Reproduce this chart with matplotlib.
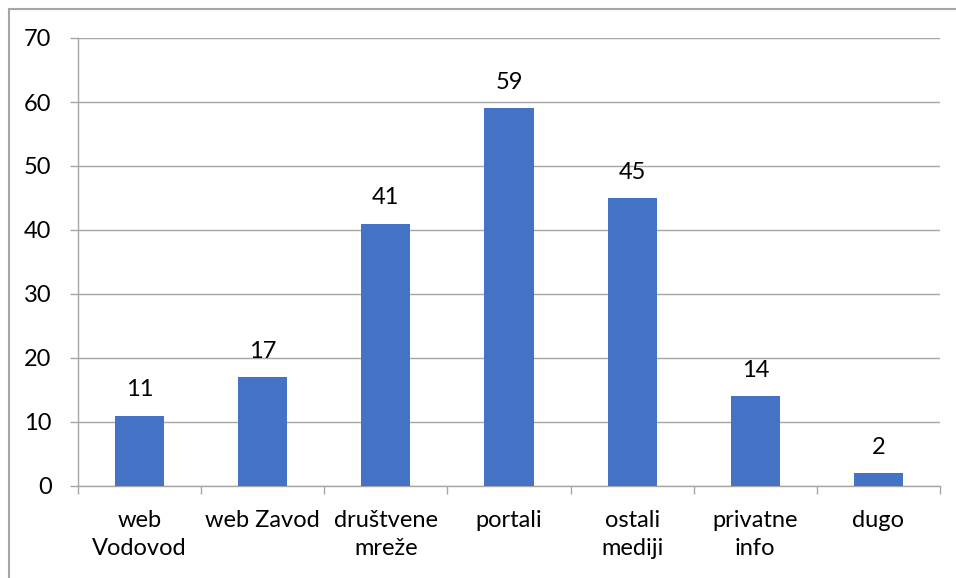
import numpy as np
import matplotlib.pyplot as plt
from matplotlib.lines import Line2D

# data
categories = ["web\nVodovod", "web Zavod", "društvene\nmreže", "portali",
              "ostali\nmediji", "privatne\ninfo", "dugo"]
values = [11, 17, 41, 59, 45, 14, 2]

plt.rcParams['font.family'] = ['Lato', 'DejaVu Sans']
grey = "#A6A6A6"

fig = plt.figure(figsize=(9.56, 5.78), dpi=100)
ax = fig.add_axes([78/956, 1 - 486/578, (940 - 78)/956, (486 - 38)/578])

x = np.arange(len(categories))
bars = ax.bar(x, values, width=0.4, color="#4472C4", zorder=3)

for xi, v in zip(x, values):
    ax.annotate(str(v), (xi, v), xytext=(0, 11), textcoords="offset points",
                ha="center", va="bottom", fontsize=17, color="black")

ax.set_xlim(-0.5, len(categories) - 0.5)
ax.set_ylim(0, 70)
ax.set_yticks(range(0, 71, 10))
ax.yaxis.grid(True, color=grey, linewidth=1, zorder=0)

ax.set_xticks(x)
ax.set_xticklabels(categories, fontsize=17, linespacing=1.45)
ax.set_xticks(np.arange(-0.5, len(categories)), minor=True)
ax.tick_params(axis="x", which="major", length=0, pad=17)
ax.tick_params(axis="x", which="minor", length=6, color=grey, width=1)
ax.tick_params(axis="y", length=6, color=grey, width=1, labelsize=17, pad=13)

for s in ["top", "right"]:
    ax.spines[s].set_visible(False)
for s in ["left", "bottom"]:
    ax.spines[s].set_color(grey)
    ax.spines[s].set_linewidth(1)

# outer chart border (top and left visible)
fig.add_artist(Line2D([9/956, 1], [1 - 9/578, 1 - 9/578], color=grey, lw=1.5,
                      transform=fig.transFigure))
fig.add_artist(Line2D([9/956, 9/956], [0, 1 - 9/578], color=grey, lw=1.5,
                      transform=fig.transFigure))

fig.savefig("out.png", dpi=100)
